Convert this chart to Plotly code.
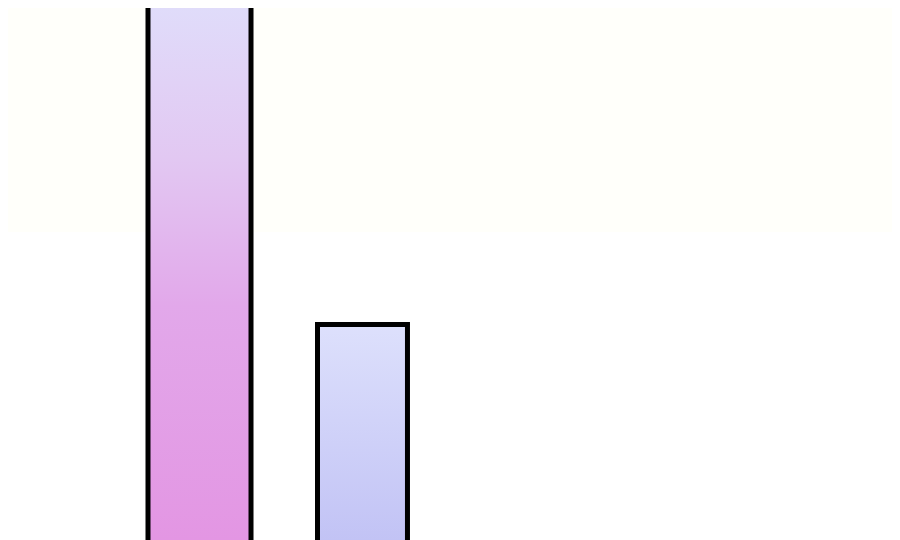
import plotly.graph_objects as go

# bar data (bar 1 runs past the top of the visible window)
positions = [0, 1]
values = [135, 60]
bar_widths = [0.632, 0.552]

# vertical gradients, bottom -> top
gradients = [
    [[0.0, "#e396e3"], [0.44, "#e2a8ea"], [0.72, "#e2c8f2"], [1.0, "#e0dcfa"]],
    [[0.0, "#c2c3f5"], [1.0, "#dde0fc"]],
]

# figure is 8px smaller each way to sit inside the page's body margin
Y_MIN, Y_MAX = 20.08, 118.6

fig = go.Figure()

for pos, val, w, cs in zip(positions, values, bar_widths, gradients):
    x0, x1 = pos - w / 2, pos + w / 2
    fig.add_trace(
        go.Scatter(
            x=[x0, x0, x1, x1, x0],
            y=[0, val, val, 0, 0],
            mode="lines",
            fill="toself",
            fillgradient=dict(
                type="vertical",
                colorscale=cs,
                start=Y_MIN,
                stop=min(val, Y_MAX),
            ),
            line=dict(color="black", width=5),
            hoverinfo="skip",
            showlegend=False,
        )
    )

fig.update_layout(
    width=892,
    height=532,
    margin=dict(l=0, r=0, t=0, b=0),
    paper_bgcolor="white",
    plot_bgcolor="white",
    xaxis=dict(range=[-1.175, 4.298], visible=False),
    yaxis=dict(range=[Y_MIN, Y_MAX], visible=False),
    shapes=[
        # faint cream wash over the upper part of the background
        dict(
            type="rect",
            xref="paper",
            yref="paper",
            x0=0,
            x1=1,
            y0=0.579,
            y1=1,
            fillcolor="#fffffa",
            line=dict(width=0),
            layer="below",
        )
    ],
)

fig.write_html("out.html")
